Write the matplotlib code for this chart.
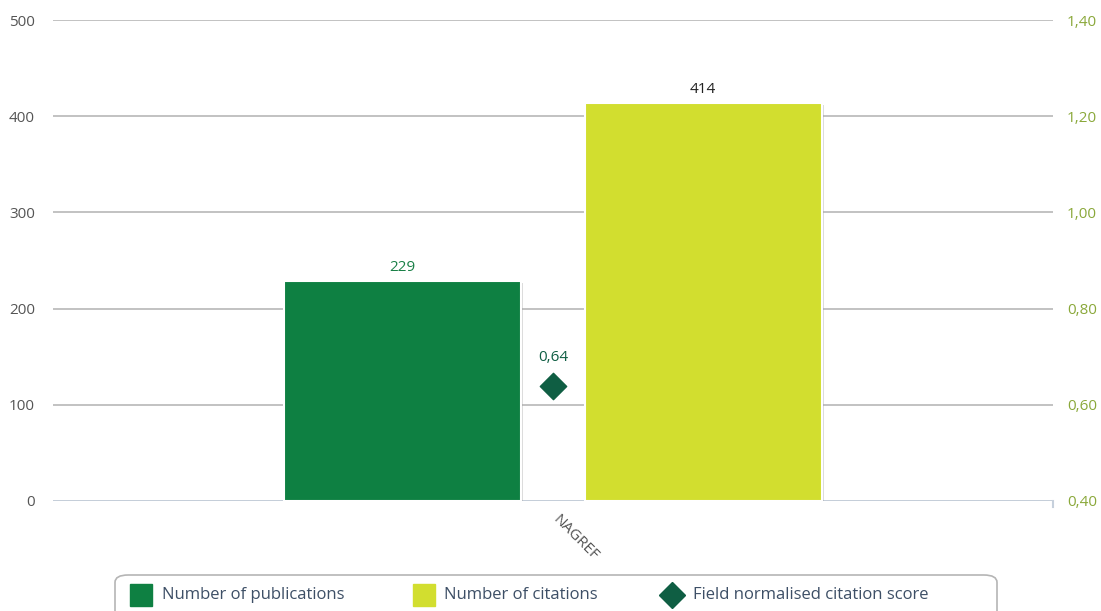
import matplotlib
matplotlib.use('Agg')
import matplotlib.pyplot as plt
import matplotlib.patheffects as pe
import matplotlib.transforms as mtrans
from matplotlib.patches import FancyBboxPatch
from matplotlib.lines import Line2D
from matplotlib.ticker import FuncFormatter

plt.rcParams['font.family'] = ['Open Sans', 'DejaVu Sans']

# data
categories = ['NAGREF']
publications = [229]
citations = [414]
fncs = [0.64]
series_labels = ['Number of publications', 'Number of citations', 'Field normalised citation score']

GREEN = '#0e8042'
YELLOW = '#d2de2f'
DIAMOND = '#0f5e43'

fig = plt.figure(figsize=(11.01, 6.11), dpi=100)
ax = fig.add_axes([53 / 1101, 110 / 611, 1000 / 1101, 481 / 611])
ax2 = ax.twinx()

x = list(range(len(categories)))
w = 0.237
shadow = [pe.SimplePatchShadow(offset=(1.5, -1.5), shadow_rgbFace='#999999', alpha=0.35), pe.Normal()]
b1 = ax.bar([i - 0.151 for i in x], publications, width=w, color=GREEN, edgecolor='white', linewidth=1.5,
            zorder=3, path_effects=shadow)
b2 = ax.bar([i + 0.15 for i in x], citations, width=w, color=YELLOW, edgecolor='white', linewidth=1.5,
            zorder=3, path_effects=shadow)

for bar, v in zip(b1, publications):
    ax.text(bar.get_x() + bar.get_width() / 2, v + 6, str(v), ha='center', va='bottom', fontsize=11, color='#1a8047')
for bar, v in zip(b2, citations):
    ax.text(bar.get_x() + bar.get_width() / 2, v + 6, str(v), ha='center', va='bottom', fontsize=11, color='#222222')

ax2.scatter(x, fncs, marker='D', s=180, color=DIAMOND, zorder=4)
for i, v in zip(x, fncs):
    ax2.annotate(f'{v:.2f}'.replace('.', ','), (i, v), xytext=(0, 15), textcoords='offset points',
                 ha='center', va='bottom', fontsize=11, color=DIAMOND)

ax.set_xlim(-0.5, 0.5)
ax.set_ylim(0, 500)
ax2.set_ylim(0.4, 1.4)
ax.set_yticks(range(0, 501, 100))
ax2.set_yticks([0.4, 0.6, 0.8, 1.0, 1.2, 1.4])
ax2.yaxis.set_major_formatter(FuncFormatter(lambda v, p: f'{v:.2f}'.replace('.', ',')))

ax.grid(axis='y', color='#b8b8b8', linewidth=1.2, zorder=0)
ax.set_axisbelow(True)
for a in (ax, ax2):
    for s in ['top', 'left', 'right', 'bottom']:
        a.spines[s].set_visible(False)
ax.axhline(0, color='#c6d0dc', linewidth=2, zorder=2)
ax.plot([1, 1], [0, -0.012], transform=ax.transAxes, color='#c6d0dc', linewidth=1.5, clip_on=False)

ax.tick_params(axis='y', length=0, pad=13, labelsize=11, labelcolor='#555555')
ax2.tick_params(axis='y', length=0, pad=10, labelsize=11, labelcolor='#8aa83a')
ax.set_xticks(x)
ax.set_xticklabels(categories, rotation=-45, ha='left', va='center', rotation_mode='anchor', fontsize=11,
                   color='#555555')
ax.tick_params(axis='x', length=0, pad=12)
for lbl in ax.get_xticklabels():
    lbl.set_transform(lbl.get_transform() + mtrans.ScaledTranslation(2 / 100, 0, fig.dpi_scale_trans))

# legend box
box = FancyBboxPatch((115 / 1101, -0.05), 882 / 1101, (611 - 575) / 611 + 0.05,
                     boxstyle='round,pad=0,rounding_size=0.012', transform=fig.transFigure,
                     facecolor='white', edgecolor='#b5b5b5', linewidth=1.2, clip_on=False)
fig.patches.append(box)
ly = 1 - 595 / 611
fig.add_artist(Line2D([141 / 1101], [ly], marker='s', markersize=16, color=GREEN, linestyle='none',
                      transform=fig.transFigure))
fig.add_artist(Line2D([424 / 1101], [ly], marker='s', markersize=16, color=YELLOW, linestyle='none',
                      transform=fig.transFigure))
fig.add_artist(Line2D([672 / 1101], [ly], marker='D', markersize=13, color=DIAMOND, linestyle='none',
                      transform=fig.transFigure))
for xp, lab in zip([162, 444, 693], series_labels):
    fig.text(xp / 1101, ly, lab, ha='left', va='center', fontsize=12, color='#3d4f66')

fig.savefig('out.png', dpi=100)
